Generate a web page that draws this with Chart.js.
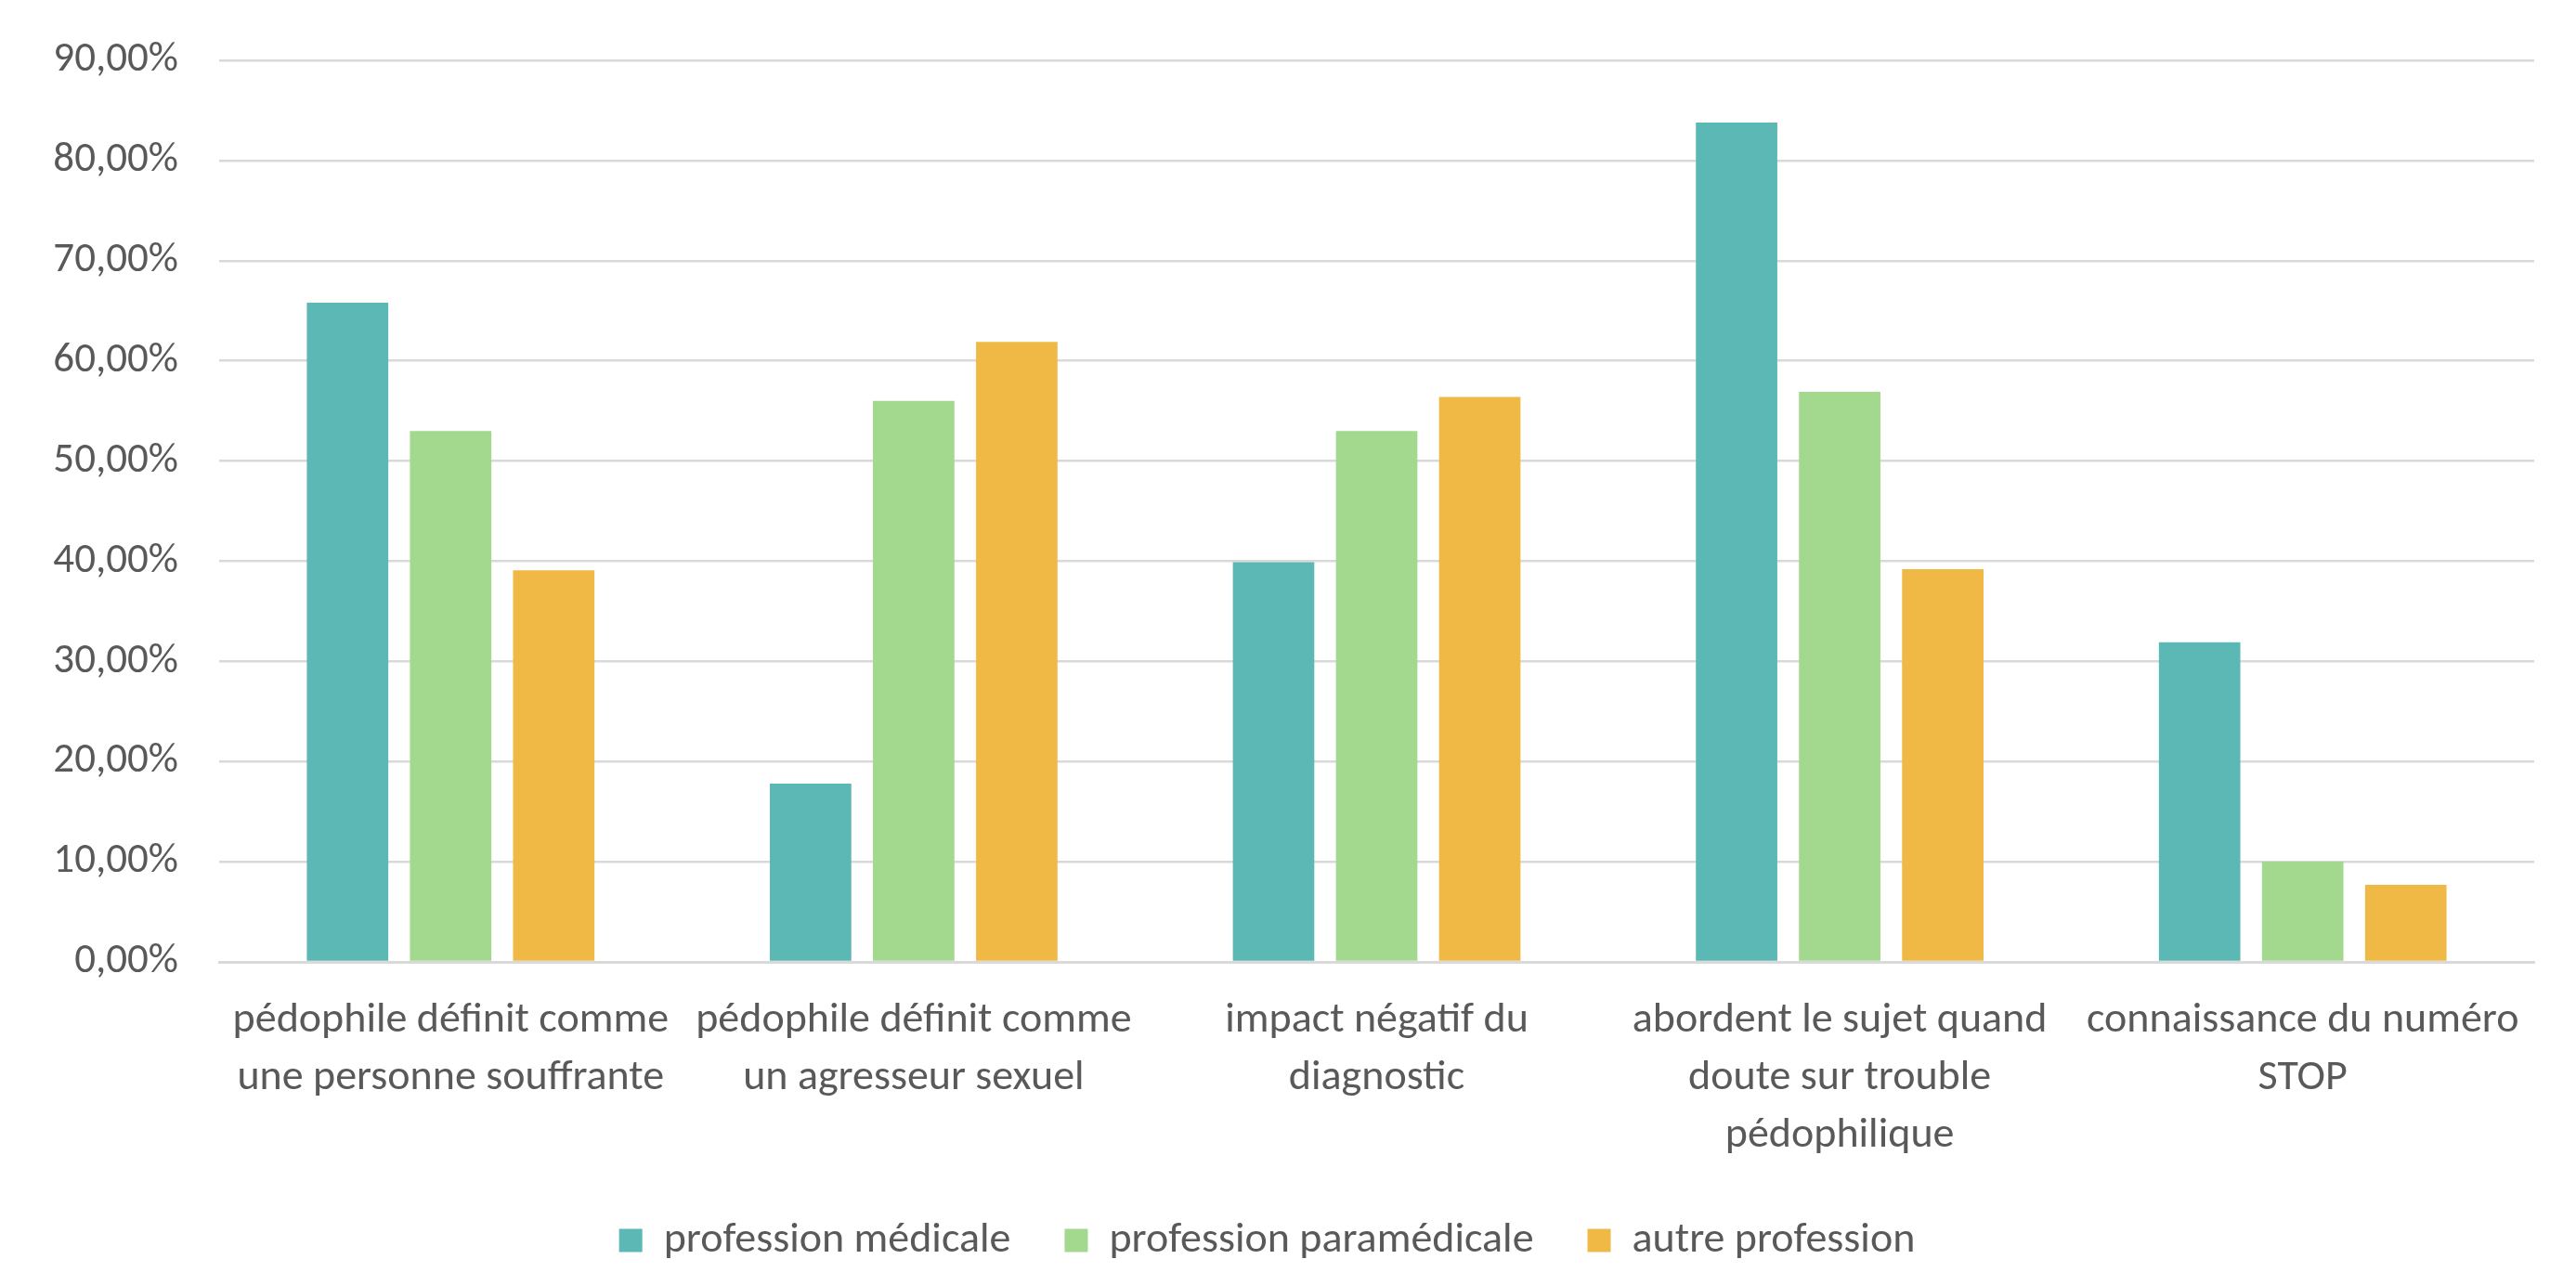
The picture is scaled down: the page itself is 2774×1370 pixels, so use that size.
<!DOCTYPE html>
<html>
<head>
<meta charset="utf-8">
<title>Perception du trouble pédophilique selon la profession</title>
<script src="https://cdn.jsdelivr.net/npm/chart.js@4/dist/chart.umd.min.js"></script>
<style>
  html, body { margin: 0; padding: 0; background: #ffffff; }
  #wrap { position: relative; width: 2774px; height: 1370px; }
</style>
</head>
<body>
<div id="wrap"><canvas id="chart" width="2774" height="1370"></canvas></div>
<script>
// Question categories (each entry is the list of lines of its axis label)
const categories = [
  ["pédophile définit comme", "une personne souffrante"],
  ["pédophile définit comme", "un agresseur sexuel"],
  ["impact négatif du", "diagnostic"],
  ["abordent le sujet quand", "doute sur trouble", "pédophilique"],
  ["connaissance du numéro", "STOP"]
];

// Share of respondents (%) per profession group
const seriesNames = ["profession médicale", "profession paramédicale", "autre profession"];
const professionMedicale = [65.8, 17.8, 39.9, 83.8, 31.9];
const professionParamedicale = [53.0, 56.0, 53.0, 56.9, 10.0];
const autreProfession = [39.1, 61.9, 56.4, 39.2, 7.7];

// Value axis ticks
const yTicks = [0, 10, 20, 30, 40, 50, 60, 70, 80, 90];

const colors = ["#5BB8B4", "#A2D98E", "#F0B845"];
const textColor = "#595959";
const gridColor = "#D9D9D9";
const fontFamily = "Carlito, Lato, 'Open Sans', sans-serif";

const formatPct = v => v.toFixed(2).replace(".", ",") + "%";

const values = [professionMedicale, professionParamedicale, autreProfession];

const chart = new Chart(document.getElementById("chart"), {
  type: "bar",
  data: {
    labels: categories,
    datasets: seriesNames.map((name, i) => ({
      label: name,
      data: values[i],
      backgroundColor: colors[i],
      borderWidth: 0,
      categoryPercentage: 0.668,
      barPercentage: 0.79
    }))
  },
  options: {
    responsive: false,
    animation: false,
    devicePixelRatio: 1,
    layout: { autoPadding: false, padding: { left: 0, right: 45, top: 65, bottom: 1 } },
    plugins: {
      tooltip: { enabled: false },
      legend: {
        position: "bottom",
        labels: {
          color: textColor,
          font: { family: fontFamily, size: 46 },
          boxWidth: 25,
          boxHeight: 25,
          padding: 58
        }
      }
    },
    scales: {
      x: {
        grid: { display: false, drawTicks: false },
        border: { display: true, color: gridColor, width: 3 },
        ticks: {
          color: textColor,
          font: { family: fontFamily, size: 46, lineHeight: 1.34 },
          padding: 33,
          maxRotation: 0,
          autoSkip: false
        },
        afterFit: s => { s.height = 219; }
      },
      y: {
        min: 0,
        max: 90,
        afterBuildTicks: s => { s.ticks = yTicks.map(v => ({ value: v })); },
        grid: { color: gridColor, lineWidth: 2.5, drawTicks: false },
        border: { display: false },
        ticks: {
          color: textColor,
          font: { family: fontFamily, size: 45 },
          padding: 44,
          callback: v => formatPct(v)
        },
        // fixed axis width; the top edge of the plot comes from layout padding only
        afterFit: s => { s.width = 236; s.paddingTop = 0; s.paddingBottom = 0; }
      }
    }
  }
});
</script>
</body>
</html>
